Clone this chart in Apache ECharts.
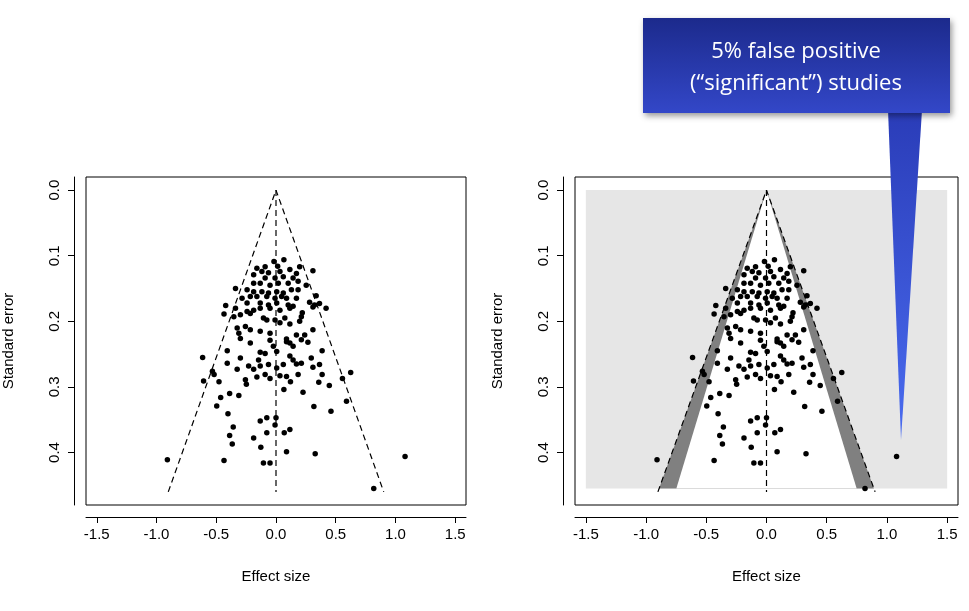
<!DOCTYPE html>
<html>
<head>
<meta charset="utf-8">
<title>Funnel plot</title>
<script src="https://cdn.jsdelivr.net/npm/echarts@6/dist/echarts.min.js"></script>
</head>
<body style="margin:0;background:#fff">
<div id="main" style="width:969px;height:611px;"></div>
<script>
// effect size / standard error
var effect = [-0.017,0.066,0.014,-0.091,-0.16,0.198,0.309,0.116,0.033,-0.063,-0.118,-0.187,0.171,0.143,0.061,-0.008,-0.091,
  -0.187,-0.132,-0.05,0.019,0.102,0.185,0.253,-0.339,-0.242,-0.187,-0.118,-0.063,0.006,0.061,0.129,0.185,0.336,-0.215,-0.16,
  -0.077,-0.008,0.047,0.088,0.171,-0.284,-0.421,-0.339,-0.242,-0.132,-0.063,0.006,0.102,0.143,0.281,0.322,0.364,0.419,0.309,
  -0.435,-0.353,-0.242,-0.187,-0.132,-0.05,0.033,0.116,0.22,-0.298,-0.215,-0.105,-0.077,-0.008,0.074,0.198,0.212,-0.325,-0.256,
  -0.215,-0.311,-0.132,-0.05,0.033,0.116,0.309,0.24,0.171,0.088,0.212,-0.215,-0.05,0.116,0.267,-0.298,0.088,-0.022,0.143,
  -0.408,-0.132,-0.091,0.006,0.386,-0.614,-0.298,-0.146,0.116,0.143,0.212,0.295,-0.408,-0.229,-0.132,-0.063,0.061,0.171,0.309,
  0.364,-0.325,-0.187,0.006,-0.532,-0.518,-0.091,-0.05,0.033,0.088,0.185,0.386,0.625,0.556,-0.606,-0.477,-0.256,-0.248,-0.16,
  0.121,0.358,0.446,0.066,0.226,-0.463,-0.388,-0.311,-0.496,0.317,0.59,-0.402,0.46,-0.132,-0.077,0,-0.008,-0.358,0.116,0.069,
  -0.077,-0.388,-0.187,-0.366,-0.127,0.088,0.328,1.08,-0.909,-0.435,-0.105,-0.05,0.818];
var stdErr = [0.109,0.106,0.116,0.117,0.119,0.117,0.123,0.121,0.124,0.126,0.124,0.129,0.127,0.134,0.132,0.134,0.134,
  0.142,0.142,0.145,0.142,0.142,0.139,0.145,0.15,0.152,0.155,0.155,0.157,0.155,0.157,0.152,0.152,0.161,0.162,0.162,
  0.162,0.165,0.162,0.165,0.165,0.165,0.176,0.18,0.172,0.172,0.175,0.172,0.175,0.177,0.171,0.175,0.173,0.18,0.178,
  0.189,0.193,0.185,0.183,0.18,0.18,0.183,0.18,0.187,0.19,0.188,0.195,0.198,0.198,0.195,0.2,0.193,0.21,0.208,
  0.213,0.218,0.215,0.218,0.202,0.204,0.213,0.221,0.221,0.227,0.228,0.233,0.229,0.233,0.232,0.226,0.231,0.238,0.238,
  0.245,0.247,0.249,0.246,0.245,0.255,0.256,0.259,0.253,0.259,0.264,0.256,0.264,0.268,0.268,0.266,0.266,0.265,0.27,
  0.266,0.273,0.273,0.271,0.276,0.281,0.281,0.287,0.283,0.284,0.281,0.281,0.278,0.287,0.291,0.292,0.289,0.296,0.285,
  0.292,0.293,0.298,0.304,0.308,0.316,0.31,0.313,0.329,0.33,0.322,0.341,0.337,0.352,0.347,0.347,0.358,0.361,0.365,0.37,
  0.37,0.374,0.378,0.387,0.392,0.399,0.402,0.406,0.411,0.412,0.416,0.416,0.455];
var xTicks = [-1.5,-1,-0.5,0,0.5,1,1.5];
var yTicks = [0,0.1,0.2,0.3,0.4];
var seMax = 0.46;     // bottom of funnel
var z2 = 1.96;        // two-sided 5%
var z1 = 1.645;       // one-sided 5%

var points = effect.map(function (e, i) { return [e, stdErr[i]]; });

var font = 'Liberation Sans';
function xAx(idx) {
  return {
    gridIndex: idx, type: 'value', min: -1.59, max: 1.59,
    name: 'Effect size', nameLocation: 'middle', nameGap: 52,
    nameTextStyle: {fontFamily: font, fontSize: 15, color: '#000'},
    offset: 12, splitLine: {show: false},
    axisLine: {show: true, onZero: false, lineStyle: {color: '#000'}},
    axisTick: {show: true, length: 6, customValues: xTicks, lineStyle: {color: '#000'}},
    axisLabel: {customValues: xTicks, fontFamily: font, fontSize: 15, color: '#000', margin: 10,
      formatter: function (v) { return v === 0 ? '0.0' : (v % 1 === 0 ? v.toFixed(1) : String(v)); }}
  };
}
function yAx(idx) {
  return {
    gridIndex: idx, type: 'value', inverse: true, min: -0.02, max: 0.48,
    name: 'Standard error', nameLocation: 'middle', nameGap: 58,
    nameTextStyle: {fontFamily: font, fontSize: 15, color: '#000'},
    offset: 12, splitLine: {show: false},
    axisLine: {show: true, onZero: false, lineStyle: {color: '#000'}},
    axisTick: {show: true, length: 6, customValues: yTicks, lineStyle: {color: '#000'}},
    axisLabel: {customValues: yTicks, rotate: 90, fontFamily: font, fontSize: 15, color: '#000', margin: 12,
      formatter: function (v) { return v.toFixed(1); }}
  };
}
function dashed(idx, data) {
  return {type: 'line', xAxisIndex: idx, yAxisIndex: idx, data: data, symbol: 'none', silent: true,
    lineStyle: {color: '#000', width: 1.2, type: [6, 4]}, z: 5};
}
function poly(idx, pts, color, z) {
  return {type: 'custom', xAxisIndex: idx, yAxisIndex: idx, silent: true, z: z, clip: false,
    data: [0],
    renderItem: function (p, api) {
      return {type: 'polygon', shape: {points: pts.map(function (q) { return api.coord(q); })},
        style: {fill: color}};
    }};
}
function scatter(idx) {
  return {type: 'scatter', xAxisIndex: idx, yAxisIndex: idx, data: points, symbolSize: 5.5,
    itemStyle: {color: '#000', opacity: 1}, z: 6};
}

var series = [];
[0, 1].forEach(function (g) {
  series.push(dashed(g, [[-z2 * seMax, seMax], [0, 0], [z2 * seMax, seMax]]));
  series.push(dashed(g, [[0, 0], [0, seMax]]));
  series.push(scatter(g));
});
var b = 0.455;
series.push(poly(1, [[-1.5, 0], [1.5, 0], [1.5, b], [-1.5, b]], '#e6e6e6', 1));
series.push(poly(1, [[0, 0], [-z2 * b, b], [z2 * b, b]], '#808080', 2));
series.push(poly(1, [[0, 0], [-z1 * b, b], [z1 * b, b]], '#ffffff', 3));

var option = {
  animation: false,
  grid: [
    {left: 81, top: 177, width: 385, height: 328, show: true, borderColor: '#000', borderWidth: 1, backgroundColor: 'transparent'},
    {left: 575, top: 177, width: 383, height: 328, show: true, borderColor: '#000', borderWidth: 1, backgroundColor: 'transparent'}
  ],
  xAxis: [xAx(0), xAx(1)],
  yAxis: [yAx(0), yAx(1)],
  series: series,
  graphic: [
    {type: 'polygon', z: 100, shape: {points: [[888, 110], [922, 110], [901, 440]]},
      style: {fill: {type: 'linear', x: 0, y: 0, x2: 0, y2: 1,
        colorStops: [{offset: 0, color: '#2a3cb8'}, {offset: 1, color: '#4a6cf0'}]}}},
    {type: 'rect', z: 101, shape: {x: 643, y: 18, width: 307, height: 95},
      style: {fill: {type: 'linear', x: 0, y: 0, x2: 0, y2: 1,
        colorStops: [{offset: 0, color: '#1c2a8c'}, {offset: 1, color: '#3347c8'}]},
        shadowBlur: 6, shadowOffsetX: 2, shadowOffsetY: 3, shadowColor: 'rgba(0,0,0,0.4)'}},
    {type: 'text', z: 102, x: 796, y: 36, style: {
      text: '5% false positive\n(\u201csignificant\u201d) studies', textAlign: 'center', align: 'center',
      fill: '#fff', font: '22px "Open Sans"', lineHeight: 32}}
  ]
};
echarts.init(document.getElementById('main')).setOption(option);
</script>
</body>
</html>
